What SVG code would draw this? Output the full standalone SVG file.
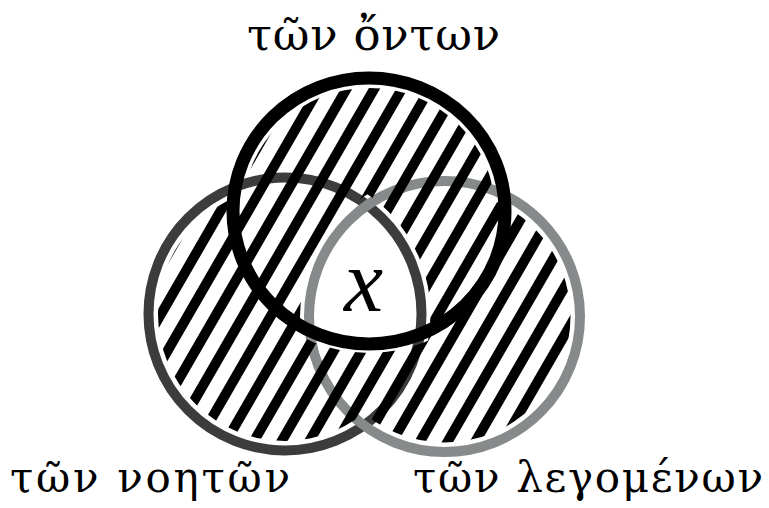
<svg xmlns="http://www.w3.org/2000/svg" width="769" height="508" viewBox="0 0 769 508">
  <style>
    .ring { fill: none; }
    .lbl { font-family: "DejaVu Serif", "Liberation Serif", serif; fill: #000; }
    .big { font-size: 45px; }
    .small { font-size: 42px; }
    .var { font-family: "Liberation Serif", "DejaVu Serif", serif; font-style: italic; font-size: 88px; fill: #000; }
  </style>
  <defs>
    <pattern id="hatch" patternUnits="userSpaceOnUse" width="24" height="24" patternTransform="rotate(30) translate(3.5,0)">
      <rect x="0" y="0" width="10" height="24" fill="#000"/>
    </pattern>
    <clipPath id="cT"><ellipse cx="369" cy="211" rx="145" ry="142"/></clipPath>
    <clipPath id="cL"><circle cx="285" cy="314" r="145.5"/></clipPath>
    <mask id="hatchMask" maskUnits="userSpaceOnUse" x="0" y="0" width="769" height="508">
      <g fill="#fff">
        <ellipse cx="369" cy="211" rx="126" ry="123"/>
        <circle cx="285" cy="314" r="127"/>
        <circle cx="444.5" cy="316.5" r="126"/>
      </g>
      <g clip-path="url(#cT)">
        <g clip-path="url(#cL)">
          <circle cx="444.5" cy="316.5" r="144.5" fill="#000"/>
        </g>
      </g>
    </mask>
  </defs>

  <g id="set-noeton">
    <circle class="ring" cx="285" cy="314" r="136.5" stroke="#3c3c3c" stroke-width="10"/>
  </g>
  <g id="set-legomenon">
    <circle class="ring" cx="444.5" cy="316.5" r="135.5" stroke="#868a8b" stroke-width="10"/>
  </g>
  <g id="hatching">
    <rect x="0" y="0" width="769" height="508" fill="url(#hatch)" mask="url(#hatchMask)"/>
  </g>
  <g id="set-onton">
    <ellipse class="ring" cx="369" cy="211" rx="136" ry="133" stroke="#000" stroke-width="13"/>
  </g>

  <g id="labels">
    <text class="lbl big" x="373.5" y="50" text-anchor="middle" textLength="253" lengthAdjust="spacing">τῶν ὄντων</text>
    <text class="lbl small" x="10" y="492" textLength="280" lengthAdjust="spacing">τῶν νοητῶν</text>
    <text class="lbl small" x="413" y="492" textLength="350" lengthAdjust="spacing">τῶν λεγομένων</text>
    <text class="var" x="363.5" y="311" text-anchor="middle">x</text>
  </g>
</svg>
